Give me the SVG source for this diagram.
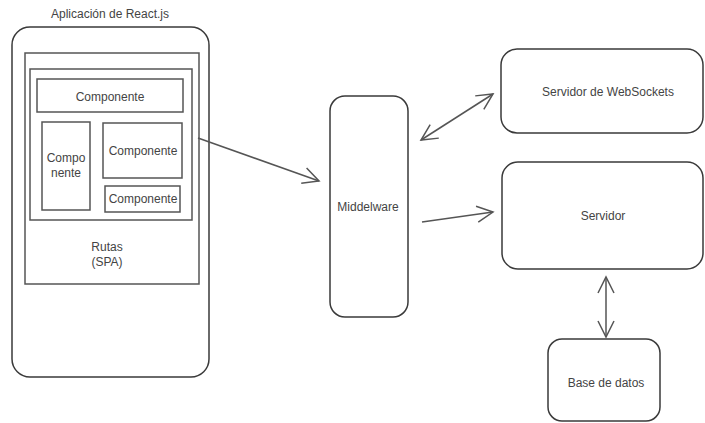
<svg xmlns="http://www.w3.org/2000/svg" width="705" height="423" viewBox="0 0 705 423">
<style>
.box{fill:none;stroke:#3a3a3a;stroke-width:1.5}
.inner{fill:none;stroke:#555;stroke-width:1.5}
text{font-family:"Liberation Sans",Arial,sans-serif;font-size:12px;fill:#444;text-anchor:middle}
.conn{fill:none;stroke:#555;stroke-width:1.5}
</style>
<defs>
<marker id="arr" viewBox="0 0 20 20" refX="18" refY="10" markerWidth="20" markerHeight="20" markerUnits="userSpaceOnUse" orient="auto-start-reverse">
<path d="M2,2 L18,10 L2,18" fill="none" stroke="#555" stroke-width="1.5"/>
</marker>
</defs>
<rect width="705" height="423" fill="#fff"/>
<g id="app">
<text x="110" y="18">Aplicación de React.js</text>
<rect class="box" x="12" y="27" width="197" height="350" rx="18"/>
</g>
<g id="rutas">
<rect class="inner" x="25" y="53" width="174" height="231"/>
<text x="107" y="251">Rutas</text>
<text x="107" y="266">(SPA)</text>
</g>
<g id="contenedor">
<rect class="inner" x="30" y="69" width="162" height="151"/>
</g>
<g id="comp1">
<rect class="inner" x="37" y="79" width="146" height="33"/>
<text x="110" y="101">Componente</text>
</g>
<g id="comp2">
<rect class="inner" x="42" y="122" width="48" height="88"/>
<text x="66" y="162">Compo</text>
<text x="66" y="177">nente</text>
</g>
<g id="comp3">
<rect class="inner" x="103" y="123" width="79" height="55"/>
<text x="143" y="155">Componente</text>
</g>
<g id="comp4">
<rect class="inner" x="105" y="186" width="75" height="26"/>
<text x="143" y="203">Componente</text>
</g>
<g id="middleware">
<rect class="box" x="330" y="96" width="78" height="221" rx="15"/>
<text x="368" y="211">Middelware</text>
</g>
<g id="websockets">
<rect class="box" x="501" y="49" width="202" height="84" rx="16"/>
<text x="608" y="96">Servidor de WebSockets</text>
</g>
<g id="servidor">
<rect class="box" x="502" y="162" width="201" height="107" rx="16"/>
<text x="603" y="220">Servidor</text>
</g>
<g id="basedatos">
<rect class="box" x="548" y="339" width="112" height="82" rx="14"/>
<text x="606" y="387">Base de datos</text>
</g>
<g id="connectors">
<line class="conn" x1="198" y1="138" x2="319" y2="181" marker-end="url(#arr)"/>
<line class="conn" x1="421" y1="140" x2="493" y2="94" marker-start="url(#arr)" marker-end="url(#arr)"/>
<line class="conn" x1="422" y1="222" x2="493" y2="212" marker-end="url(#arr)"/>
<line class="conn" x1="606" y1="277" x2="606" y2="337" marker-start="url(#arr)" marker-end="url(#arr)"/>
</g>
</svg>
